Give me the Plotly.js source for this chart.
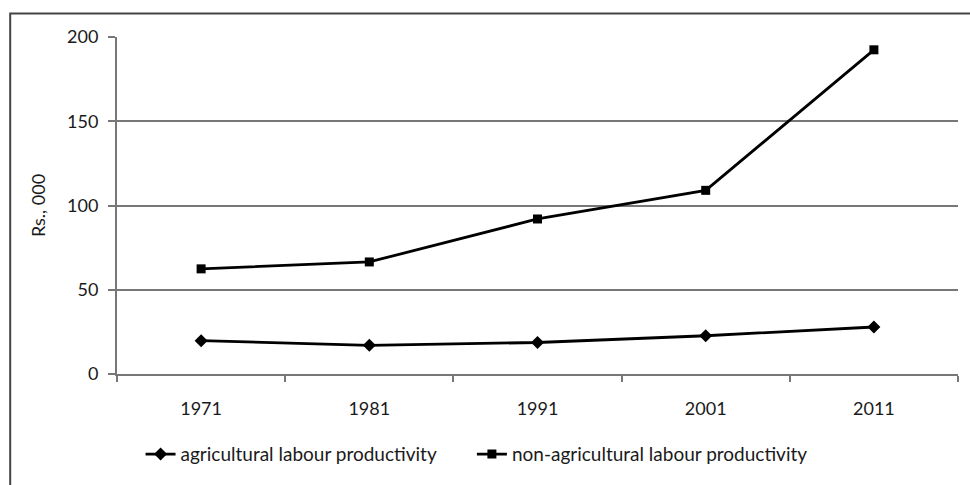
<!DOCTYPE html>
<html>
<head>
<meta charset="utf-8">
<script src="https://cdn.plot.ly/plotly-3.0.1.min.js"></script>
<style>html,body{margin:0;padding:0;background:#fff;}#chart{width:970px;height:485px;}</style>
</head>
<body>
<div id="chart"></div>
<script>
var years = ["1971", "1981", "1991", "2001", "2011"];
var agricultural = [19.8, 17.0, 18.7, 22.7, 27.9];
var nonAgricultural = [62.4, 66.5, 92.0, 109.0, 192.4];
var yTicks = [0, 50, 100, 150, 200];

var traces = [
  {x: years, y: agricultural, type: 'scatter', mode: 'lines+markers',
   name: 'agricultural labour productivity', legend: 'legend',
   line: {color: '#000', width: 2.8}, marker: {symbol: 'diamond', size: 10, color: '#000'}},
  {x: years, y: nonAgricultural, type: 'scatter', mode: 'lines+markers',
   name: 'non-agricultural labour productivity', legend: 'legend2',
   line: {color: '#000', width: 2.8}, marker: {symbol: 'square', size: 9, color: '#000'}}
];

var legendStyle = {orientation: 'h', xanchor: 'left', y: -0.238, yanchor: 'middle',
                   font: {size: 19, color: '#1a1a1a'}, itemwidth: 30, bgcolor: 'rgba(0,0,0,0)'};

var layout = {
  width: 970, height: 485,
  margin: {l: 117, r: 12, t: 37, b: 104},
  paper_bgcolor: '#fff', plot_bgcolor: '#fff',
  font: {family: 'Lato, "Open Sans", sans-serif', color: '#1a1a1a', size: 18},
  showlegend: true,
  legend: Object.assign({}, legendStyle, {x: 0.028}),
  legend2: Object.assign({}, legendStyle, {x: 0.422}),
  xaxis: {type: 'category', range: [-0.5, 4.5], showgrid: false, showline: true, linecolor: '#777', linewidth: 2,
          ticks: 'outside', tickson: 'boundaries', ticklen: 6, tickcolor: '#777', tickwidth: 2,
          ticklabelstandoff: 17, tickfont: {size: 18}, zeroline: false, fixedrange: true},
  yaxis: {range: [0, 200], tickvals: yTicks, showgrid: true, gridcolor: '#777', gridwidth: 2,
          showline: true, linecolor: '#777', linewidth: 2, ticks: 'outside', ticklen: 7,
          tickcolor: '#777', tickwidth: 2, ticklabelstandoff: 6, tickfont: {size: 18}, zeroline: false,
          title: {text: 'Rs., 000', font: {size: 18}, standoff: 17}},
  shapes: [{type: 'rect', xref: 'paper', yref: 'paper', x0: -0.127, x1: 1.2, y0: 1.07, y1: -0.5,
            line: {color: '#444', width: 2}, fillcolor: 'rgba(0,0,0,0)', layer: 'below'}]
};

Plotly.newPlot('chart', traces, layout, {displayModeBar: false, staticPlot: true});
</script>
</body>
</html>
